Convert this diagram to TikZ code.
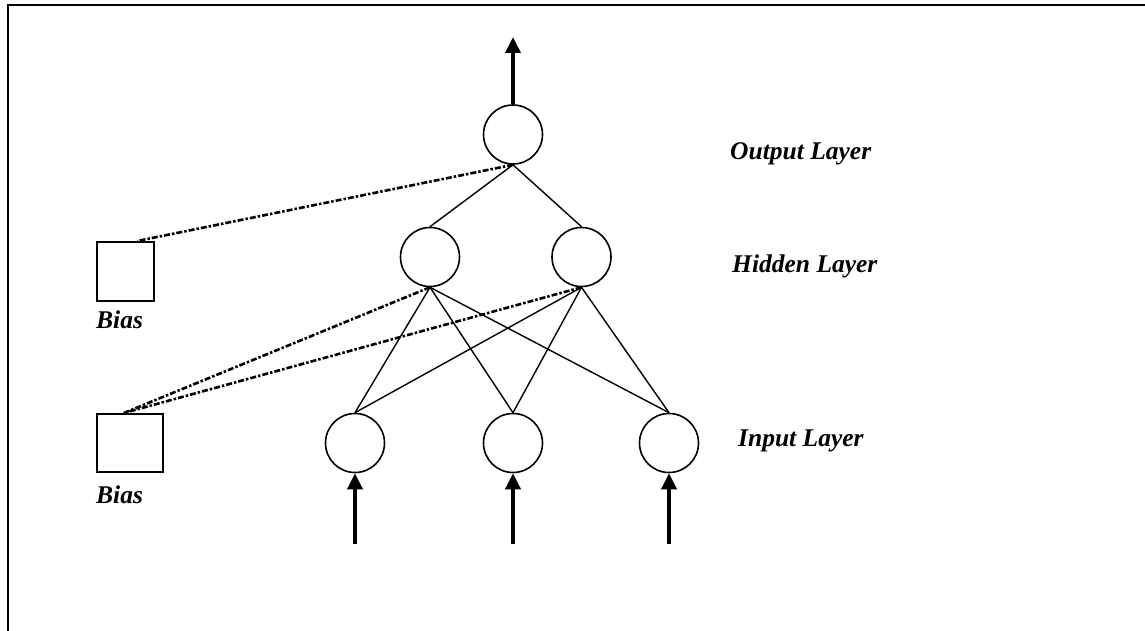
\documentclass[tikz,border=0pt]{standalone}
\usepackage{fontspec}
\setmainfont{Liberation Serif}
\usetikzlibrary{arrows.meta,calc}
\begin{document}
\begin{tikzpicture}[x=1pt,y=-1pt,
  neuron/.style={circle,draw,line width=1.6pt,minimum size=59pt,inner sep=0pt},
  biasbox/.style={draw,line width=1.6pt,inner sep=0pt,anchor=north west},
  layerlabel/.style={anchor=base west,inner sep=0pt,font=\fontsize{25.5}{30}\selectfont\bfseries\itshape},
  weight/.style={line width=1.4pt},
  biaslink/.style={line width=2.6pt,dash pattern=on 6pt off 2pt on 2.5pt off 2pt},
  signal/.style={line width=3.6pt,-{Triangle[length=16pt,width=15pt]}}]
  \useasboundingbox (0,0) rectangle (1145,631);
  % frame
  \draw[line width=2.4pt] (8,632) -- (8,5) -- (1146,5);

  % neurons
  \node[neuron] (o)  at (513,134.5) {};
  \node[neuron] (h1) at (430,257) {};
  \node[neuron] (h2) at (581.5,257) {};
  \node[neuron] (i1) at (355,443) {};
  \node[neuron] (i2) at (513,443) {};
  \node[neuron] (i3) at (669,443) {};

  % bias units
  \node[biasbox,minimum width=57pt,minimum height=59pt] (b1) at (96,241) {};
  \node[biasbox,minimum width=66pt,minimum height=58pt] (b2) at (96,413) {};
  \node[layerlabel] (bl1) at (96,328) {Bias};
  \node[layerlabel] (bl2) at (96,503) {Bias};

  % layer names
  \node[layerlabel] (lo) at (730,160) {Output Layer};
  \node[layerlabel] (lh) at (732,272) {Hidden Layer};
  \node[layerlabel] (li) at (738,446) {Input Layer};

  % weights
  \foreach \h in {h1,h2} {
    \draw[weight] (o.south) -- (\h.north);
    \foreach \i in {i1,i2,i3}
      \draw[weight] (\h.south) -- (\i.north);
  }

  % bias connections
  \coordinate (b1in) at ([xshift=12pt]b1.north);
  \coordinate (b2in) at ([xshift=-6pt]b2.north);
  \draw[biaslink] (o.south) -- (b1in);
  \draw[biaslink] (h1.south) -- (b2in);
  \draw[biaslink] (h2.south) -- (b2in);

  % input and output signals
  \coordinate (out) at (513,37);
  \draw[signal] (o.north) -- (out);
  \foreach \i in {i1,i2,i3} {
    \coordinate (\i src) at ($(\i.south)+(0,71)$);
    \draw[signal] (\i src) -- (\i.south);
  }
\end{tikzpicture}
\end{document}
